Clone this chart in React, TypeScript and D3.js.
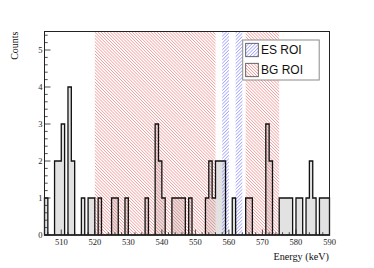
import React from "react";
import * as d3 from "d3";

// Histogram: 1 keV bins from 505 to 590
const binStart = 505;
const binWidth = 1;
const counts = [
  1, 0, 0, 2, 2, 3, 0, 4, 2, 0, // 505-514
  0, 1, 0, 1, 1, 0, 1, 0, 0, 0, // 515-524
  1, 1, 0, 0, 1, 0, 0, 0, 0, 0, // 525-534
  1, 0, 0, 3, 2, 1, 0, 0, 1, 1, // 535-544
  1, 1, 0, 1, 0, 0, 0, 0, 1, 2, // 545-554
  1, 2, 2, 2, 0, 0, 1, 0, 0, 0, // 555-564
  1, 1, 0, 0, 0, 0, 3, 2, 0, 0, // 565-574
  1, 1, 1, 1, 0, 1, 1, 0, 1, 2, // 575-584
  1, 0, 1, 1, 1,                // 585-589
];
const esRoi: [number, number][] = [[558, 560], [562, 564]];
const bgRoi: [number, number][] = [[520, 556], [565, 575]];
const xMajorTicks = [510, 520, 530, 540, 550, 560, 570, 580, 590];
const yMajorTicks = [0, 1, 2, 3, 4, 5];
const legendItems = [
  { label: "ES ROI", key: "es" },
  { label: "BG ROI", key: "bg" },
];
const xTitle = "Energy (keV)";
const yTitle = "Counts";

const W = 374, H = 268;
const L = 44.5, R = 329.5, T = 31.5, B = 235;

export default function App() {
  const x = d3.scaleLinear().domain([505, 590]).range([L, R]);
  const y = d3.scaleLinear().domain([0, 5.5]).range([B, T]);

  const pts: [number, number][] = [[binStart, 0]];
  counts.forEach((c, i) => pts.push([binStart + i * binWidth, c]));
  pts.push([binStart + counts.length * binWidth, counts[counts.length - 1]]);
  pts.push([binStart + counts.length * binWidth, 0]);
  const line = d3
    .line<[number, number]>()
    .x((d) => x(d[0]))
    .y((d) => y(d[1]))
    .curve(d3.curveStepAfter);
  const histPath = line(pts) as string;
  const histFill = histPath + "Z";

  const xMinor = d3.range(506, 590, 2).filter((v) => v % 10 !== 0);
  const yMinor = d3.range(0.2, 5.5, 0.2).filter((v) => Math.abs(v - Math.round(v)) > 0.01);

  const serif = "'Liberation Serif', 'Times New Roman', serif";
  const sans = "'Liberation Sans', Arial, sans-serif";

  return (
    <svg
      width={W}
      height={H}
      style={{ position: "absolute", left: 0, top: 0, background: "#fff" }}
    >
      <defs>
        <pattern id="hatchRed" patternUnits="userSpaceOnUse" width="2.2" height="2.2" patternTransform="rotate(-45)">
          <line x1="0" y1="0" x2="0" y2="2.2" stroke="#ec4a4a" strokeWidth="0.9" strokeOpacity="0.9" />
        </pattern>
        <pattern id="hatchBlue" patternUnits="userSpaceOnUse" width="2.4" height="2.4" patternTransform="rotate(45)">
          <line x1="0" y1="0" x2="0" y2="2.4" stroke="#4a4aff" strokeWidth="0.9" strokeOpacity="0.9" />
        </pattern>
        <clipPath id="frameClip">
          <rect x={L} y={T} width={R - L} height={B - T} />
        </clipPath>
      </defs>

      {/* histogram fill */}
      <path d={histFill} fill="#e2e2e2" stroke="none" />

      {/* ROIs */}
      <g clipPath="url(#frameClip)">
        {bgRoi.map(([a, b], i) => (
          <rect key={"bg" + i} x={x(a)} y={T} width={x(b) - x(a)} height={B - T} fill="url(#hatchRed)" />
        ))}
        {esRoi.map(([a, b], i) => (
          <rect key={"es" + i} x={x(a)} y={T} width={x(b) - x(a)} height={B - T} fill="url(#hatchBlue)" />
        ))}
      </g>

      {/* histogram outline */}
      <path d={histFill} fill="none" stroke="#111" strokeWidth={1.3} strokeLinejoin="miter" />

      {/* frame */}
      <rect x={L} y={T} width={R - L} height={B - T} fill="none" stroke="#222" strokeWidth={1} />

      {/* x ticks */}
      {xMajorTicks.map((v) => (
        <line key={"xM" + v} x1={x(v)} x2={x(v)} y1={B} y2={B - 5.5} stroke="#222" strokeWidth={0.8} />
      ))}
      {xMinor.map((v) => (
        <line key={"xm" + v} x1={x(v)} x2={x(v)} y1={B} y2={B - 2.8} stroke="#222" strokeWidth={0.8} />
      ))}
      {xMajorTicks.map((v) => (
        <text key={"xl" + v} x={x(v)} y={244.8} fontSize={8.5} fontFamily={serif} textAnchor="middle" fill="#222">
          {v}
        </text>
      ))}

      {/* y ticks */}
      {yMajorTicks.map((v) => (
        <line key={"yM" + v} x1={L} x2={L + 6} y1={y(v)} y2={y(v)} stroke="#222" strokeWidth={0.8} />
      ))}
      {yMinor.map((v, i) => (
        <line key={"ym" + i} x1={L} x2={L + 3.2} y1={y(v)} y2={y(v)} stroke="#222" strokeWidth={0.8} />
      ))}
      {yMajorTicks.map((v) => (
        <text key={"yl" + v} x={42.5} y={y(v) + 3} fontSize={8.5} fontFamily={serif} textAnchor="end" fill="#222">
          {v}
        </text>
      ))}

      {/* titles */}
      <text x={329} y={259.5} fontSize={10.2} fontFamily={serif} textAnchor="end" fill="#111">
        {xTitle}
      </text>
      <text transform={`translate(17.5, ${T}) rotate(-90)`} fontSize={10} fontFamily={serif} textAnchor="end" fill="#111">
        {yTitle}
      </text>

      {/* legend */}
      <rect x={242.7} y={40} width={76.5} height={40} fill="#fff" stroke="#8a8a8a" strokeWidth={1} />
      {legendItems.map((it, i) => (
        <g key={it.key}>
          <rect x={245.7} y={43.3 + i * 20} width={12.6} height={13.4} fill="#fff" />
          <rect
            x={245.7}
            y={43.3 + i * 20}
            width={12.6}
            height={13.4}
            fill={it.key === "es" ? "url(#hatchBlue)" : "url(#hatchRed)"}
            stroke="#444"
            strokeWidth={0.8}
          />
          <text x={261} y={54.3 + i * 20} fontSize={12} fontFamily={sans} fill="#111">
            {it.label}
          </text>
        </g>
      ))}
    </svg>
  );
}
